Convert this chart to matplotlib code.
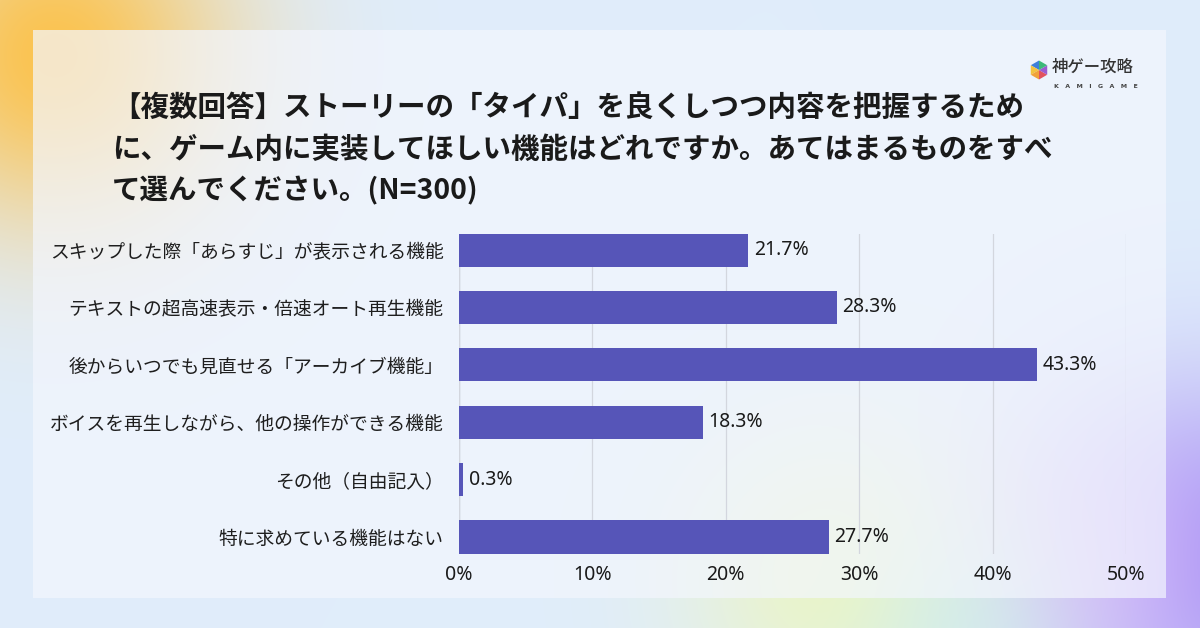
import numpy as np
import matplotlib
matplotlib.use("Agg")
import matplotlib.pyplot as plt
from matplotlib.patches import Polygon

plt.rcParams['font.family'] = ['Noto Sans CJK JP', 'DejaVu Sans']

# ---- data ----
categories = [
    "スキップした際「あらすじ」が表示される機能",
    "テキストの超高速表示・倍速オート再生機能",
    "後からいつでも見直せる「アーカイブ機能」",
    "ボイスを再生しながら、他の操作ができる機能",
    "その他（自由記入）",
    "特に求めている機能はない",
]
values = [21.7, 28.3, 43.3, 18.3, 0.3, 27.7]
xticks = [0, 10, 20, 30, 40, 50]
xtick_labels = ["0%", "10%", "20%", "30%", "40%", "50%"]
title_lines = [
    "【複数回答】ストーリーの「タイパ」を良くしつつ内容を把握するため",
    "に、ゲーム内に実装してほしい機能はどれですか。あてはまるものをすべ",
    "て選んでください。(N=300)",
]

W, H = 1200, 628
fig = plt.figure(figsize=(W / 100, H / 100), dpi=100)


def fx(x):
    return x / W


def fy(y):
    return 1 - y / H


# ---- background image ----
yy, xx = np.mgrid[0:H, 0:W].astype(float)
img = np.zeros((H, W, 3))
base = np.array([224, 237, 251]) / 255
img[:] = base


def blob(cx, cy, r, color, strength):
    global img
    d2 = ((xx - cx) ** 2 + (yy - cy) ** 2) / (r ** 2)
    a = strength * np.exp(-d2)
    c = np.array(color) / 255
    img = img * (1 - a[..., None]) + c * a[..., None]


blob(55, 55, 170, (252, 194, 75), 0.97)
blob(1215, 560, 170, (165, 145, 245), 0.97)
blob(1090, 560, 130, (220, 190, 250), 0.65)
blob(840, 580, 150, (238, 246, 190), 0.85)
blob(960, 630, 110, (200, 240, 240), 0.5)

# panel
panel = np.array([243, 246, 253]) / 255
mask = (xx >= 33) & (xx <= 1165) & (yy >= 30) & (yy <= 597)
alpha = np.where(mask, 0.7, 0.0)
img = img * (1 - alpha[..., None]) + panel * alpha[..., None]

bg = fig.add_axes([0, 0, 1, 1], zorder=-10)
bg.imshow(img, extent=[0, W, H, 0], aspect='auto', interpolation='bilinear')
bg.set_xlim(0, W)
bg.set_ylim(H, 0)
bg.axis('off')

# ---- title ----
line_y = [108, 150, 191]
for t, y in zip(title_lines, line_y):
    fig.text(fx(112), fy(y), t, fontsize=20.5, fontweight='bold',
             color='#1a1a1a', ha='left', va='center')

# ---- logo ----
cx, cy, r = 1039, 70, 9.5
ang = np.deg2rad(np.arange(90, 450, 60))
pts = [(cx + r * np.cos(a), cy - r * np.sin(a)) for a in ang]
cols = ['#3d7fd9', '#f2c33f', '#f0a23a', '#e2525e', '#9b5bd0', '#3cb878']
for i in range(6):
    p1 = pts[i]
    p2 = pts[(i + 1) % 6]
    bg.add_patch(Polygon([(cx, cy), p1, p2], closed=True, color=cols[i], lw=0))
fig.text(fx(1052), fy(67), "神ゲー攻略", fontsize=11.8, color='#333333',
         ha='left', va='center', fontweight='medium')
fig.text(fx(1054), fy(86), "K   A   M   I   G   A   M   E", fontsize=4.5,
         color='#444444', ha='left', va='center', family=['DejaVu Sans'],
         fontweight='bold')

# ---- chart ----
ax = fig.add_axes([fx(459), fy(553.5), fx(1126) - fx(459), fy(233.5) - fy(553.5)])
ax.patch.set_alpha(0)
h = 0.575
ypos = np.arange(len(categories))
ax.barh(ypos, values, height=h, color='#5655b8', zorder=3)
ax.set_ylim(len(categories) - 1 + h / 2, -h / 2)
ax.set_xlim(0, 50)
ax.set_xticks(xticks)
ax.set_xticklabels(xtick_labels, fontsize=14, color='#1a1a1a',
                   family=['Noto Sans', 'DejaVu Sans'])
ax.set_yticks(ypos)
ax.set_yticklabels(categories, fontsize=13.5, color='#1e1e1e')
ax.tick_params(axis='x', length=0, pad=8)
ax.tick_params(axis='y', length=0, pad=11)
ax.grid(axis='x', color='#d3d6de', lw=0.9, zorder=0)
for s in ax.spines.values():
    s.set_visible(False)
ax.axvline(0, color='#c8ccd4', lw=1.0, zorder=1)

for yv, v in zip(ypos, values):
    ax.annotate(f"{v:.1f}%", (v, yv), xytext=(4, 0), textcoords='offset points',
                ha='left', va='center', fontsize=14, color='#1a1a1a',
                family=['Noto Sans', 'DejaVu Sans'])

fig.savefig("out.png", dpi=100)
